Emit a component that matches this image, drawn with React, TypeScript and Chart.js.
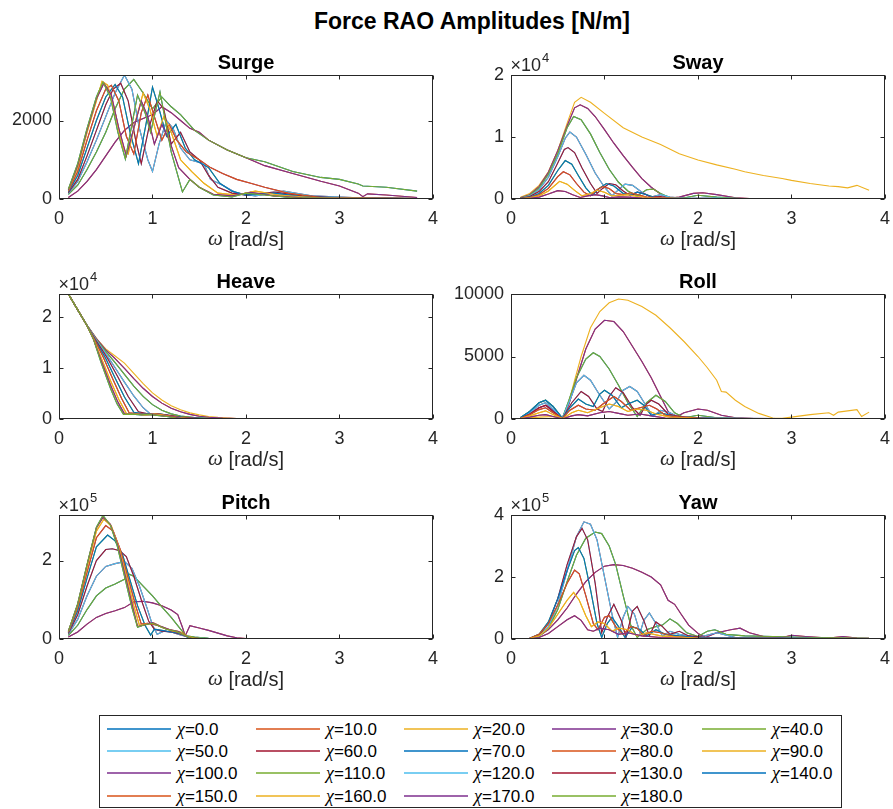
import React, { useEffect, useRef } from 'react';
import { Chart, registerables } from 'chart.js';

Chart.register(...registerables);

const FONT = "'Liberation Sans', Arial, Helvetica, sans-serif";
const GREEK = "'Liberation Serif', 'DejaVu Serif', serif";

// Wave headings (deg)
const CHI = [0, 10, 20, 30, 40, 50, 60, 70, 80, 90, 100, 110, 120, 130, 140, 150, 160, 170, 180];
// MATLAB default colour order
const COLORS = ['#0072BD', '#D95319', '#EDB120', '#7E2F8E', '#77AC30', '#4DBEEE', '#A2142F'];
const X_TICKS = [0, 1, 2, 3, 4];

type Pt = [number, number];

// Each plot: series for χ = 0..90 as [ω, amplitude] pairs.
// χ > 90 is drawn with the series of 180-χ (symmetric heading, drawn on top).
const SURGE: Pt[][] = [
  [[0.1,250],[0.2,900],[0.3,1800],[0.4,2600],[0.47,2980],[0.55,2600],[0.63,1700],[0.71,1020],[0.78,1900],[0.84,2650],[0.92,2200],[0.98,1700],[1.08,2730],[1.2,1200],[1.32,180],[1.4,500],[1.5,300],[1.65,100],[1.85,50],[2.0,150],[2.2,100],[2.5,30],[3.0,20],[3.83,10]],
  [[0.1,230],[0.2,850],[0.3,1750],[0.4,2550],[0.48,2950],[0.56,2650],[0.64,1800],[0.72,1100],[0.8,1800],[0.88,2500],[0.95,2100],[1.02,1400],[1.1,1900],[1.18,1500],[1.28,800],[1.4,500],[1.5,300],[1.65,120],[1.85,80],[2.05,170],[2.3,80],[2.6,30],[3.2,15],[3.83,10]],
  [[0.1,220],[0.2,800],[0.3,1700],[0.4,2500],[0.46,3000],[0.52,2900],[0.6,2200],[0.68,1300],[0.74,1150],[0.82,2000],[0.9,2700],[0.97,2300],[1.05,1600],[1.12,2100],[1.2,1700],[1.3,1000],[1.42,700],[1.55,400],[1.7,150],[1.9,100],[2.1,200],[2.35,100],[2.7,40],[3.3,20],[3.83,10]],
  [[0.1,200],[0.2,700],[0.3,1500],[0.4,2250],[0.5,2800],[0.56,2900],[0.64,2500],[0.72,1600],[0.8,1150],[0.88,2200],[0.95,2650],[1.02,2100],[1.1,1500],[1.18,1900],[1.26,1500],[1.36,1200],[1.5,1000],[1.62,800],[1.75,650],[1.9,500],[2.05,400],[2.2,300],[2.45,150],[2.8,40],[3.83,10]],
  [[0.1,180],[0.2,600],[0.3,1300],[0.4,2000],[0.5,2600],[0.6,2920],[0.68,2600],[0.76,1700],[0.85,900],[0.93,1900],[1.0,2850],[1.07,2300],[1.15,1600],[1.25,1900],[1.35,1300],[1.45,1000],[1.6,800],[1.72,400],[1.85,200],[2.0,100],[2.3,150],[2.6,60],[3.0,30],[3.83,10]],
  [[0.1,160],[0.2,500],[0.3,1100],[0.4,1750],[0.5,2400],[0.58,2800],[0.66,2950],[0.74,2500],[0.82,1500],[0.88,900],[0.96,1800],[1.05,2500],[1.12,2300],[1.2,1400],[1.3,1700],[1.4,1200],[1.5,1000],[1.6,600],[1.7,300],[1.85,150],[2.0,100],[2.3,180],[2.6,80],[3.0,30],[3.83,10]],
  [[0.1,140],[0.2,450],[0.3,950],[0.4,1500],[0.5,2100],[0.6,2700],[0.7,3160],[0.78,2800],[0.86,1800],[0.95,1000],[1.0,700],[1.07,1400],[1.15,2000],[1.22,1800],[1.3,1300],[1.4,1000],[1.55,900],[1.62,500],[1.75,350],[1.9,150],[2.1,80],[2.4,200],[2.7,80],[3.2,30],[3.83,10]],
  [[0.1,120],[0.2,350],[0.3,750],[0.4,1200],[0.5,1700],[0.6,2300],[0.7,2800],[0.8,3050],[0.9,2700],[1.0,2300],[1.1,2600],[1.2,2350],[1.3,2150],[1.45,1750],[1.6,1500],[1.8,1250],[2.0,1050],[2.2,950],[2.5,700],[2.8,550],[3.0,500],[3.2,380],[3.25,330],[3.5,300],[3.83,200]],
  [[0.1,40],[0.2,200],[0.3,450],[0.4,750],[0.5,1100],[0.6,1450],[0.7,1750],[0.8,1950],[0.9,2050],[1.0,2150],[1.1,2350],[1.2,2200],[1.3,2000],[1.4,1800],[1.5,1700],[1.6,1500],[1.8,1250],[2.0,1050],[2.2,850],[2.5,650],[2.8,450],[3.0,330],[3.2,150],[3.25,60],[3.3,130],[3.5,100],[3.83,40]],
  [[0.1,0],[1.0,0],[2.0,0],[3.83,0]],
];

const SWAY: Pt[][] = [
  [[0.1,0],[1.0,0],[2.0,0],[3.83,0]],
  [[0.1,20],[0.2,100],[0.3,300],[0.4,800],[0.5,1350],[0.58,1200],[0.66,700],[0.74,250],[0.82,500],[0.9,700],[0.98,500],[1.06,200],[1.15,350],[1.25,300],[1.4,150],[2.0,30],[3.83,5]],
  [[0.1,40],[0.2,180],[0.3,500],[0.4,1300],[0.52,2850],[0.6,2400],[0.68,1400],[0.76,500],[0.85,900],[0.92,1400],[1.0,1100],[1.08,500],[1.16,600],[1.25,700],[1.35,400],[1.5,200],[2.0,50],[3.83,5]],
  [[0.1,60],[0.2,250],[0.3,700],[0.4,1700],[0.5,3600],[0.56,4400],[0.63,3900],[0.7,2500],[0.78,1100],[0.85,500],[0.92,1500],[0.98,2000],[1.05,1700],[1.12,900],[1.2,700],[1.28,1000],[1.36,700],[1.45,300],[1.6,200],[2.0,50],[3.83,5]],
  [[0.1,80],[0.2,300],[0.3,900],[0.4,2200],[0.5,4600],[0.58,6200],[0.65,5600],[0.72,3800],[0.8,1800],[0.87,600],[0.95,1800],[1.02,2500],[1.1,2100],[1.2,900],[1.28,700],[1.35,1100],[1.45,700],[1.55,200],[1.7,150],[2.0,50],[3.83,5]],
  [[0.1,100],[0.2,400],[0.3,1200],[0.4,2800],[0.5,5800],[0.57,8000],[0.61,8300],[0.68,7500],[0.76,5000],[0.85,2500],[0.92,900],[0.98,1700],[1.05,2500],[1.12,2300],[1.2,1300],[1.28,500],[1.35,1100],[1.42,900],[1.5,300],[1.6,400],[1.7,100],[2.0,80],[2.5,30],[3.83,5]],
  [[0.1,130],[0.2,500],[0.3,1500],[0.4,3500],[0.5,6800],[0.58,9800],[0.63,10800],[0.7,10000],[0.8,7200],[0.9,4200],[1.0,1900],[1.08,500],[1.15,1500],[1.22,2400],[1.3,2200],[1.4,1100],[1.5,300],[1.6,700],[1.7,300],[1.85,100],[2.2,150],[2.6,40],[3.83,10]],
  [[0.1,150],[0.2,600],[0.3,1800],[0.4,4000],[0.5,7300],[0.6,11500],[0.67,13300],[0.75,12800],[0.85,10500],[0.95,7500],[1.05,4800],[1.15,2700],[1.25,1300],[1.35,500],[1.45,1500],[1.52,1600],[1.6,900],[1.7,200],[1.8,50],[2.0,600],[2.2,300],[2.5,50],[3.83,10]],
  [[0.1,200],[0.2,700],[0.3,2000],[0.4,4300],[0.5,7800],[0.6,11800],[0.68,14700],[0.74,15200],[0.82,14600],[0.9,13300],[1.0,11200],[1.1,9000],[1.2,7000],[1.3,5100],[1.4,3300],[1.5,1900],[1.6,800],[1.68,100],[1.8,300],[1.95,900],[2.05,1000],[2.2,700],[2.4,200],[2.6,50],[3.0,30],[3.83,10]],
  [[0.1,300],[0.2,900],[0.3,2200],[0.4,4400],[0.5,7800],[0.6,12200],[0.68,15600],[0.75,16400],[0.85,15600],[1.0,13800],[1.2,11500],[1.4,10000],[1.6,8800],[1.8,7300],[2.0,6300],[2.2,5500],[2.4,4800],[2.5,4400],[2.7,3800],[2.9,3300],[3.0,3000],[3.2,2500],[3.4,2100],[3.5,2000],[3.6,1800],[3.7,2200],[3.83,1400]],
];

const HEAVE: Pt[][] = [
  [[0.1,24400],[0.2,21300],[0.3,18200],[0.37,15500],[0.45,11000],[0.55,6000],[0.62,3000],[0.69,900],[0.78,950],[0.88,800],[0.95,900],[1.05,700],[1.15,500],[1.25,200],[1.4,80],[1.7,40],[2.2,20],[3.0,10],[3.83,5]],
  [[0.1,24400],[0.2,21300],[0.3,18200],[0.37,15500],[0.45,11500],[0.55,6700],[0.63,3300],[0.7,1000],[0.8,950],[0.9,850],[1.0,900],[1.1,650],[1.2,450],[1.3,200],[1.5,80],[2.0,30],[3.83,5]],
  [[0.1,24400],[0.2,21300],[0.3,18200],[0.37,15600],[0.45,12000],[0.55,7500],[0.64,3800],[0.72,1100],[0.82,1000],[0.92,800],[1.02,950],[1.12,700],[1.22,400],[1.35,150],[1.6,60],[2.0,30],[3.83,5]],
  [[0.1,24400],[0.2,21300],[0.3,18200],[0.38,15500],[0.48,11800],[0.58,7600],[0.67,4000],[0.75,1200],[0.85,1000],[0.95,900],[1.05,1000],[1.15,700],[1.28,350],[1.45,120],[1.8,40],[3.83,5]],
  [[0.1,24400],[0.2,21300],[0.3,18200],[0.38,15600],[0.5,11800],[0.6,8000],[0.7,4300],[0.8,1300],[0.9,1000],[1.0,1000],[1.1,900],[1.2,600],[1.35,250],[1.6,80],[2.0,30],[3.83,5]],
  [[0.1,24400],[0.2,21300],[0.3,18200],[0.4,15200],[0.52,11800],[0.63,8200],[0.74,4400],[0.85,1400],[0.95,1000],[1.05,1000],[1.15,800],[1.3,400],[1.5,120],[1.8,40],[3.83,5]],
  [[0.1,24400],[0.2,21300],[0.3,18300],[0.4,15400],[0.5,12800],[0.6,10000],[0.7,7200],[0.8,4500],[0.9,2200],[0.97,1100],[1.05,900],[1.15,700],[1.3,350],[1.5,100],[1.8,40],[3.83,5]],
  [[0.1,24400],[0.2,21300],[0.3,18300],[0.4,15500],[0.5,13200],[0.6,11000],[0.7,8700],[0.8,6400],[0.9,4400],[1.0,2800],[1.1,1700],[1.2,1000],[1.3,600],[1.45,300],[1.6,120],[1.8,50],[2.2,20],[3.83,5]],
  [[0.1,24400],[0.2,21300],[0.3,18300],[0.4,15700],[0.5,13500],[0.6,11800],[0.7,9900],[0.8,7900],[0.9,6000],[1.0,4400],[1.1,3100],[1.2,2100],[1.3,1400],[1.4,900],[1.5,550],[1.6,350],[1.75,180],[1.9,80],[2.2,30],[3.83,5]],
  [[0.1,24400],[0.2,21300],[0.3,18300],[0.4,15700],[0.5,13700],[0.6,12300],[0.7,10900],[0.8,8900],[0.9,6900],[1.0,5100],[1.1,3700],[1.2,2600],[1.3,1800],[1.4,1200],[1.5,800],[1.6,500],[1.7,320],[1.8,200],[1.9,100],[2.0,60],[2.3,30],[3.83,10]],
];

const ROLL: Pt[][] = [
  [[0.1,0],[1.0,0],[2.0,0],[3.83,0]],
  [[0.1,20],[0.2,150],[0.3,300],[0.37,350],[0.45,200],[0.55,20],[0.65,250],[0.72,350],[0.82,250],[0.95,500],[1.05,600],[1.15,450],[1.25,300],[1.38,400],[1.5,250],[1.65,80],[2.0,20],[3.83,5]],
  [[0.1,40],[0.2,250],[0.3,500],[0.37,650],[0.45,350],[0.55,30],[0.65,500],[0.72,700],[0.82,500],[0.95,900],[1.05,1200],[1.15,1000],[1.25,600],[1.35,800],[1.45,700],[1.55,400],[1.7,150],[2.0,40],[3.83,5]],
  [[0.1,60],[0.2,350],[0.3,750],[0.37,900],[0.45,500],[0.55,50],[0.63,700],[0.72,1100],[0.8,800],[0.9,700],[1.0,1300],[1.1,1800],[1.18,1400],[1.28,700],[1.38,900],[1.48,1100],[1.56,800],[1.65,300],[1.8,150],[2.1,40],[3.83,5]],
  [[0.1,100],[0.2,600],[0.3,1300],[0.37,1500],[0.45,1000],[0.55,60],[0.63,900],[0.72,1600],[0.8,1200],[0.88,1000],[0.95,2000],[1.0,2300],[1.08,1900],[1.18,900],[1.25,1200],[1.35,1500],[1.42,1100],[1.5,300],[1.6,500],[1.7,300],[1.8,100],[2.2,40],[3.83,5]],
  [[0.1,80],[0.2,400],[0.3,900],[0.37,1100],[0.45,600],[0.55,60],[0.65,1300],[0.75,2200],[0.83,1800],[0.92,800],[0.98,600],[1.05,1800],[1.12,2500],[1.2,2100],[1.3,900],[1.38,300],[1.45,1200],[1.5,1500],[1.58,1200],[1.68,400],[1.8,200],[2.0,80],[2.4,30],[3.83,5]],
  [[0.1,90],[0.2,500],[0.3,1100],[0.37,1300],[0.45,800],[0.55,80],[0.63,1500],[0.7,2900],[0.78,3500],[0.85,3100],[0.95,1900],[1.05,800],[1.12,1300],[1.2,2300],[1.27,2600],[1.35,2200],[1.45,1000],[1.52,200],[1.6,700],[1.7,500],[1.8,150],[2.0,100],[2.4,50],[3.83,5]],
  [[0.1,100],[0.2,600],[0.3,1300],[0.37,1500],[0.45,1000],[0.55,80],[0.62,1500],[0.7,3300],[0.8,4800],[0.88,5300],[0.95,5000],[1.05,4000],[1.15,2700],[1.25,1300],[1.35,200],[1.45,1300],[1.55,1900],[1.65,1400],[1.75,500],[1.85,100],[2.0,300],[2.2,100],[2.5,30],[3.83,10]],
  [[0.1,80],[0.2,400],[0.3,900],[0.38,1100],[0.45,700],[0.55,50],[0.62,1200],[0.7,3200],[0.8,5600],[0.9,7200],[1.0,7900],[1.1,7800],[1.2,7000],[1.3,5800],[1.4,4600],[1.5,3300],[1.6,1800],[1.68,600],[1.75,100],[1.85,500],[2.0,800],[2.1,700],[2.25,300],[2.4,100],[2.6,30],[3.83,10]],
  [[0.1,50],[0.3,150],[0.45,200],[0.55,100],[0.6,800],[0.67,2800],[0.75,5000],[0.85,7300],[0.95,8600],[1.05,9300],[1.15,9600],[1.25,9500],[1.4,9000],[1.55,8300],[1.7,7300],[1.85,6200],[2.0,5000],[2.1,4100],[2.2,3100],[2.25,2200],[2.3,2150],[2.4,1500],[2.5,1000],[2.65,450],[2.8,80],[2.9,50],[3.0,150],[3.2,350],[3.4,500],[3.45,300],[3.5,550],[3.7,750],[3.75,200],[3.83,550]],
];

const PITCH: Pt[][] = [
  [[0.1,20000],[0.2,90000],[0.3,190000],[0.4,285000],[0.47,315000],[0.55,290000],[0.62,240000],[0.7,160000],[0.78,80000],[0.84,30000],[0.9,35000],[1.0,40000],[1.05,35000],[1.15,25000],[1.25,20000],[1.32,12000],[1.4,3000],[1.6,1000],[2.0,500],[3.83,100]],
  [[0.1,19000],[0.2,88000],[0.3,188000],[0.4,283000],[0.47,310000],[0.55,292000],[0.63,238000],[0.71,160000],[0.79,80000],[0.84,32000],[0.92,36000],[1.0,42000],[1.08,33000],[1.18,24000],[1.28,19000],[1.33,10000],[1.42,2000],[1.7,800],[2.2,300],[3.83,100]],
  [[0.1,18000],[0.2,85000],[0.3,182000],[0.4,275000],[0.48,305000],[0.56,288000],[0.64,235000],[0.72,160000],[0.8,85000],[0.86,35000],[0.93,38000],[1.02,40000],[1.1,30000],[1.2,22000],[1.3,18000],[1.35,8000],[1.45,2000],[1.8,600],[3.83,100]],
  [[0.1,17000],[0.2,80000],[0.3,170000],[0.4,258000],[0.5,289000],[0.58,275000],[0.66,225000],[0.74,155000],[0.82,85000],[0.88,38000],[0.95,40000],[1.05,35000],[1.12,28000],[1.22,20000],[1.32,15000],[1.38,5000],[1.5,1500],[2.0,500],[3.83,100]],
  [[0.1,16000],[0.2,72000],[0.3,155000],[0.4,235000],[0.52,265000],[0.6,250000],[0.68,215000],[0.76,150000],[0.84,85000],[0.92,35000],[0.98,10000],[1.02,25000],[1.1,22000],[1.2,18000],[1.3,14000],[1.38,4000],[1.5,1000],[2.0,400],[3.83,100]],
  [[0.1,14000],[0.2,62000],[0.3,135000],[0.4,200000],[0.5,228000],[0.57,230000],[0.65,225000],[0.72,210000],[0.8,160000],[0.88,100000],[0.96,45000],[1.02,25000],[1.1,20000],[1.2,18000],[1.3,12000],[1.4,4000],[1.5,1000],[2.0,400],[3.83,100]],
  [[0.1,12000],[0.2,50000],[0.3,110000],[0.4,160000],[0.5,185000],[0.6,192000],[0.7,197000],[0.78,180000],[0.86,135000],[0.94,80000],[1.0,35000],[1.05,12000],[1.12,20000],[1.2,18000],[1.3,10000],[1.4,4000],[1.55,1500],[2.0,500],[3.83,100]],
  [[0.1,9000],[0.2,35000],[0.3,75000],[0.4,110000],[0.5,130000],[0.6,140000],[0.7,152000],[0.75,165000],[0.8,160000],[0.9,135000],[1.0,110000],[1.1,82000],[1.2,55000],[1.3,25000],[1.36,8000],[1.45,5000],[1.6,2000],[2.0,600],[3.83,100]],
  [[0.1,5000],[0.2,18000],[0.3,38000],[0.4,55000],[0.5,65000],[0.6,72000],[0.7,80000],[0.8,95000],[0.9,96000],[1.0,92000],[1.1,85000],[1.2,74000],[1.27,62000],[1.32,30000],[1.35,8000],[1.4,34000],[1.5,28000],[1.6,22000],[1.7,15000],[1.8,8000],[1.9,3000],[2.0,1000],[2.5,300],[3.83,100]],
  [[0.1,0],[1.0,0],[2.0,0],[3.83,0]],
];

const YAW: Pt[][] = [
  [[0.1,0],[1.0,0],[2.0,0],[3.83,0]],
  [[0.1,0],[0.2,800],[0.3,5000],[0.4,18000],[0.5,40000],[0.6,62000],[0.68,75000],[0.75,60000],[0.82,30000],[0.88,25000],[0.95,35000],[1.05,30000],[1.15,15000],[1.25,20000],[1.4,10000],[1.6,5000],[2.0,1000],[3.83,200]],
  [[0.1,0],[0.2,1500],[0.3,10000],[0.4,35000],[0.5,80000],[0.6,125000],[0.67,150000],[0.73,125000],[0.8,75000],[0.86,40000],[0.93,55000],[1.0,50000],[1.08,25000],[1.15,35000],[1.25,30000],[1.35,10000],[1.45,20000],[1.6,10000],[2.0,2000],[3.83,500]],
  [[0.1,0],[0.2,2000],[0.3,15000],[0.4,50000],[0.5,110000],[0.6,180000],[0.68,222000],[0.73,210000],[0.8,140000],[0.88,50000],[0.93,30000],[1.0,70000],[1.05,75000],[1.12,40000],[1.2,15000],[1.28,40000],[1.35,35000],[1.42,10000],[1.5,25000],[1.6,20000],[1.75,8000],[2.0,3000],[3.83,500]],
  [[0.1,0],[0.2,2000],[0.3,15000],[0.4,55000],[0.5,130000],[0.6,220000],[0.68,285000],[0.72,295000],[0.78,260000],[0.85,160000],[0.92,50000],[0.97,5000],[1.03,50000],[1.08,70000],[1.15,40000],[1.22,5000],[1.3,40000],[1.38,30000],[1.45,10000],[1.55,30000],[1.65,15000],[1.8,10000],[2.0,5000],[3.83,500]],
  [[0.1,0],[0.2,1500],[0.3,12000],[0.4,50000],[0.5,130000],[0.6,240000],[0.7,330000],[0.76,357000],[0.82,320000],[0.9,180000],[0.97,20000],[1.03,70000],[1.1,112000],[1.18,60000],[1.23,5000],[1.3,90000],[1.35,105000],[1.42,60000],[1.48,10000],[1.55,55000],[1.62,40000],[1.7,15000],[1.8,25000],[1.9,10000],[2.1,5000],[2.5,3000],[3.83,500]],
  [[0.1,0],[0.2,1000],[0.3,10000],[0.4,40000],[0.5,110000],[0.6,220000],[0.7,330000],[0.78,378000],[0.85,370000],[0.92,320000],[1.0,200000],[1.08,80000],[1.14,5000],[1.2,70000],[1.25,105000],[1.32,80000],[1.38,20000],[1.42,60000],[1.48,84000],[1.55,50000],[1.62,10000],[1.7,25000],[1.8,15000],[2.0,5000],[2.2,20000],[2.4,5000],[2.6,3000],[3.83,1000]],
  [[0.1,0],[0.2,800],[0.3,8000],[0.4,35000],[0.5,95000],[0.6,185000],[0.7,270000],[0.8,325000],[0.9,345000],[0.97,340000],[1.05,300000],[1.12,240000],[1.2,140000],[1.28,45000],[1.35,5000],[1.45,30000],[1.55,40000],[1.62,45000],[1.7,65000],[1.78,50000],[1.88,20000],[2.0,8000],[2.1,25000],[2.18,30000],[2.3,15000],[2.5,10000],[2.8,8000],[3.2,5000],[3.83,2000]],
  [[0.1,0],[0.2,2000],[0.3,10000],[0.4,30000],[0.5,62000],[0.6,100000],[0.7,145000],[0.8,185000],[0.9,215000],[1.0,235000],[1.1,240000],[1.2,237000],[1.3,228000],[1.4,215000],[1.5,200000],[1.6,175000],[1.68,125000],[1.75,112000],[1.82,80000],[1.9,45000],[2.0,18000],[2.08,5000],[2.2,20000],[2.35,30000],[2.45,35000],[2.55,20000],[2.7,8000],[2.9,5000],[3.0,12000],[3.15,8000],[3.4,3000],[3.55,8000],[3.7,3000],[3.83,2000]],
  [[0.1,0],[1.0,0],[2.0,0],[3.83,0]],
];

// y-axis ticks per subplot
const SURGE_Y = [0, 2000];
const SWAY_Y = [0, 10000, 20000];
const HEAVE_Y = [0, 10000, 20000];
const ROLL_Y = [0, 5000, 10000];
const PITCH_Y = [0, 200000];
const YAW_Y = [0, 200000, 400000];

interface Spec {
  title: string;
  data: Pt[][];
  yMax: number;
  yTicks: number[];
  exp: number;
  left: number;
  top: number;
  height: number;
}

const AX_W = 374;
const Y_W = 62;
const PAD_T = 34;
const PAD_R = 14;
const X_H = 56;

const SPECS: Spec[] = [
  { title: 'Surge', data: SURGE, yMax: 3160, yTicks: SURGE_Y, exp: 0, left: 59, top: 75, height: 124 },
  { title: 'Sway', data: SWAY, yMax: 20000, yTicks: SWAY_Y, exp: 4, left: 511, top: 75, height: 124 },
  { title: 'Heave', data: HEAVE, yMax: 24400, yTicks: HEAVE_Y, exp: 4, left: 59, top: 294, height: 125 },
  { title: 'Roll', data: ROLL, yMax: 10000, yTicks: ROLL_Y, exp: 0, left: 511, top: 294, height: 125 },
  { title: 'Pitch', data: PITCH, yMax: 316000, yTicks: PITCH_Y, exp: 5, left: 59, top: 515, height: 124 },
  { title: 'Yaw', data: YAW, yMax: 400000, yTicks: YAW_Y, exp: 5, left: 511, top: 515, height: 124 },
];

const axesDecor = {
  id: 'axesDecor',
  afterDraw(chart: any, _args: any, opts: any) {
    const { ctx, chartArea } = chart;
    const l = Math.round(chartArea.left) + 0.5;
    const t = Math.round(chartArea.top) + 0.5;
    const r = Math.round(chartArea.right) - 0.5;
    const b = Math.round(chartArea.bottom) - 0.5;
    const xs = chart.scales.x;
    const ys = chart.scales.y;
    ctx.save();
    ctx.strokeStyle = '#262626';
    ctx.lineWidth = 1;
    ctx.strokeRect(l, t, r - l, b - t);
    ctx.beginPath();
    for (const v of X_TICKS) {
      const px = Math.round(xs.getPixelForValue(v)) + 0.5;
      ctx.moveTo(px, b); ctx.lineTo(px, b - 4);
      ctx.moveTo(px, t); ctx.lineTo(px, t + 4);
    }
    for (const v of opts.yTicks as number[]) {
      const py = Math.round(ys.getPixelForValue(v)) + 0.5;
      ctx.moveTo(l, py); ctx.lineTo(l + 4, py);
      ctx.moveTo(r, py); ctx.lineTo(r - 4, py);
    }
    ctx.stroke();
    // subplot title
    ctx.fillStyle = '#000000';
    ctx.font = `bold 20px ${FONT}`;
    ctx.textAlign = 'center';
    ctx.textBaseline = 'alphabetic';
    ctx.fillText(opts.title, (l + r) / 2, t - 7);
    // x label: italic ω + " [rad/s]"
    ctx.fillStyle = '#262626';
    ctx.textBaseline = 'middle';
    ctx.textAlign = 'left';
    const gFont = `italic 21px ${GREEK}`;
    const sFont = `20px ${FONT}`;
    ctx.font = gFont;
    const wg = ctx.measureText('\u03c9').width;
    ctx.font = sFont;
    const rest = ' [rad/s]';
    const wr = ctx.measureText(rest).width;
    const x0 = (l + r) / 2 - (wg + wr) / 2;
    const ly = b + 42;
    ctx.font = gFont;
    ctx.fillText('\u03c9', x0, ly - 1);
    ctx.font = sFont;
    ctx.fillText(rest, x0 + wg, ly);
    // exponent label
    if (opts.exp) {
      ctx.textBaseline = 'alphabetic';
      ctx.font = `18px ${FONT}`;
      const base = '\u00d710';
      ctx.fillText(base, l - 1, t - 5);
      const w = ctx.measureText(base).width;
      ctx.font = `13px ${FONT}`;
      ctx.fillText(String(opts.exp), l - 1 + w + 1, t - 14);
    }
    ctx.restore();
  },
};

function Subplot({ spec }: { spec: Spec }) {
  const ref = useRef<HTMLCanvasElement>(null);
  const W = Y_W + AX_W + PAD_R;
  const H = PAD_T + spec.height + X_H;
  useEffect(() => {
    if (!ref.current) return;
    const datasets = CHI.map((chi, i) => {
      const src = spec.data[i <= 9 ? i : 18 - i];
      return {
        label: `\u03c7=${chi.toFixed(1)}`,
        data: src.map(([x, y]) => ({ x, y })),
        borderColor: COLORS[i % 7],
        backgroundColor: COLORS[i % 7],
        borderWidth: 1.1,
        pointRadius: 0,
        fill: false,
        tension: 0,
        order: 18 - i,
      };
    });
    const divisor = spec.exp ? Math.pow(10, spec.exp) : 1;
    const chart = new Chart(ref.current, {
      type: 'line',
      data: { datasets },
      options: {
        animation: false,
        responsive: false,
        devicePixelRatio: 1,
        layout: { padding: { left: 0, top: PAD_T, right: PAD_R, bottom: 0 } },
        plugins: {
          legend: { display: false },
          tooltip: { enabled: false },
          title: { display: false },
          axesDecor: { title: spec.title, yTicks: spec.yTicks, exp: spec.exp },
        } as any,
        scales: {
          x: {
            type: 'linear',
            min: 0,
            max: 4,
            grid: { display: false, drawTicks: false },
            border: { display: false },
            afterBuildTicks: (axis: any) => { axis.ticks = X_TICKS.map((value) => ({ value })); },
            afterFit: (axis: any) => { axis.height = X_H; },
            ticks: {
              autoSkip: false,
              maxRotation: 0,
              padding: 9,
              color: '#262626',
              font: { family: FONT, size: 18 },
              callback: (v: any) => String(v),
            },
          },
          y: {
            type: 'linear',
            min: 0,
            max: spec.yMax,
            grid: { display: false, drawTicks: false },
            border: { display: false },
            afterBuildTicks: (axis: any) => { axis.ticks = spec.yTicks.map((value) => ({ value })); },
            afterFit: (axis: any) => { axis.width = Y_W; },
            ticks: {
              autoSkip: false,
              padding: 7,
              color: '#262626',
              font: { family: FONT, size: 18 },
              callback: (v: any) => String(Math.round((v as number) / divisor)),
            },
          },
        },
      },
      plugins: [axesDecor],
    });
    return () => chart.destroy();
  }, [spec]);
  return (
    <canvas
      ref={ref}
      width={W}
      height={H}
      style={{ position: 'absolute', left: spec.left - Y_W, top: spec.top - PAD_T, width: W, height: H }}
    />
  );
}

const LEGEND_COL_X = [177, 326, 474, 622, 772];
const LEGEND_ROW_Y = [729, 751, 773, 796];

function Legend() {
  const boxL = 99, boxT = 715;
  return (
    <div
      style={{
        position: 'absolute', left: boxL, top: boxT, width: 743, height: 93,
        border: '1px solid #262626', background: '#fff', boxSizing: 'border-box',
      }}
    >
      {CHI.map((chi, k) => {
        const col = k % 5;
        const row = Math.floor(k / 5);
        const tx = LEGEND_COL_X[col] - boxL - 1;
        const ty = LEGEND_ROW_Y[row] - boxT - 1;
        return (
          <React.Fragment key={chi}>
            <svg
              width={64}
              height={6}
              style={{ position: 'absolute', left: tx - 70, top: ty - 3, overflow: 'visible' }}
            >
              <line x1={0} y1={3} x2={64} y2={3} stroke={COLORS[k % 7]} strokeWidth={1.4} />
            </svg>
            <div style={{ position: 'absolute', left: tx, top: ty - 11, lineHeight: '22px', fontSize: 17, fontFamily: FONT, color: '#000', whiteSpace: 'nowrap' }}>
              <span style={{ fontFamily: GREEK, fontStyle: 'italic', fontSize: 18 }}>{'\u03c7'}</span>
              {`=${chi.toFixed(1)}`}
            </div>
          </React.Fragment>
        );
      })}
    </div>
  );
}

export default function App() {
  return (
    <div style={{ position: 'absolute', left: 0, top: 0, width: 893, height: 809, background: '#fff', overflow: 'hidden' }}>
      <div
        style={{
          position: 'absolute', left: 222, width: 500, top: 6, textAlign: 'center',
          fontFamily: FONT, fontWeight: 'bold', fontSize: 23, lineHeight: '30px', color: '#000',
        }}
      >
        Force RAO Amplitudes [N/m]
      </div>
      {SPECS.map((s) => <Subplot key={s.title} spec={s} />)}
      <Legend />
    </div>
  );
}
